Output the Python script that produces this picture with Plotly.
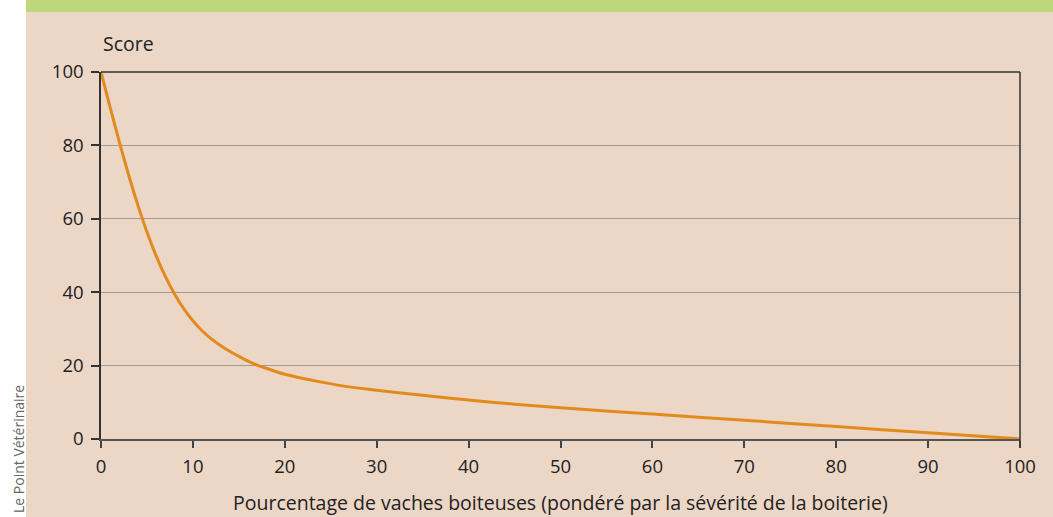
import plotly.graph_objects as go

# Data
x_pct = [0, 1, 2, 3, 4, 5, 6, 7, 8, 9, 10, 11, 12, 13, 14, 15, 16, 17, 18, 19,
         20, 22, 24, 27, 30, 35, 40, 45, 50, 60, 70, 80, 90, 100]
score = [100, 90.3, 80.9, 72.0, 63.8, 56.4, 49.9, 44.3, 39.5, 35.5, 32.2, 29.5,
         27.3, 25.5, 23.9, 22.5, 21.2, 20.15, 19.25, 18.4, 17.65, 16.5, 15.5,
         14.2, 13.3, 11.9, 10.6, 9.5, 8.5, 6.8, 5.1, 3.4, 1.7, 0]
x_ticks = [0, 10, 20, 30, 40, 50, 60, 70, 80, 90, 100]
y_ticks = [0, 20, 40, 60, 80, 100]
x_title = "Pourcentage de vaches boiteuses (pondéré par la sévérité de la boiterie)"
y_title = "Score"
credit = "Le Point Vétérinaire"

W, H = 1053, 517
L, R, T, B = 101, 33, 72, 78
pw, ph = W - L - R, H - T - B

def px_x(p):
    return (p - L) / pw

def px_y(p):
    return (H - B - p) / ph

BEIGE = "#ecd6c6"
GREEN = "#bdd87a"
FONT = "Open Sans"

fig = go.Figure()
fig.add_trace(go.Scatter(
    x=x_pct, y=score, mode="lines",
    line=dict(color="#e38a1c", width=3, shape="spline", smoothing=0.8),
    cliponaxis=False, showlegend=False, hoverinfo="skip",
))

fig.update_layout(
    width=W, height=H,
    margin=dict(l=L, r=R, t=T, b=B, pad=0, autoexpand=False),
    paper_bgcolor=BEIGE, plot_bgcolor=BEIGE,
    font=dict(family=FONT, size=18, color="#222"),
    xaxis=dict(
        range=[0, 100], tickvals=x_ticks, ticks="outside", ticklen=7,
        tickwidth=1.5, tickcolor="#444", showgrid=False, zeroline=False,
        showline=True, linecolor="#555", linewidth=2, mirror=False,
        tickfont=dict(size=18.5, color="#222"), ticklabelstandoff=3,
        automargin=False, fixedrange=True,
    ),
    yaxis=dict(
        range=[0, 100], tickvals=y_ticks, ticks="outside", ticklen=8,
        tickwidth=1.5, tickcolor="#333", showgrid=True, gridcolor="#a09a96",
        gridwidth=1, zeroline=False, showline=True, linecolor="#333",
        linewidth=1.5, tickfont=dict(size=18.5, color="#222"),
        ticklabelstandoff=4, automargin=False, fixedrange=True,
    ),
    shapes=[
        # white strip on the left
        dict(type="rect", xref="paper", yref="paper", x0=px_x(0), x1=px_x(26),
             y0=px_y(H), y1=px_y(0), fillcolor="white", line=dict(width=0), layer="below"),
        # green band on top
        dict(type="rect", xref="paper", yref="paper", x0=px_x(26), x1=px_x(W),
             y0=px_y(12), y1=px_y(0), fillcolor=GREEN, line=dict(width=0), layer="below"),
        # top border line
        dict(type="line", xref="paper", yref="paper", x0=0, x1=1, y0=1, y1=1,
             line=dict(color="#333", width=1.5)),
        # right border line
        dict(type="line", xref="paper", yref="paper", x0=1, x1=1, y0=px_y(447), y1=1,
             line=dict(color="#333", width=1.5)),
    ],
    annotations=[
        dict(text=y_title, xref="paper", yref="paper", x=0, y=px_y(44),
             xanchor="left", yanchor="middle", showarrow=False,
             font=dict(size=19.5, color="#222")),
        dict(text=x_title, xref="paper", yref="paper", x=0.5, y=px_y(503),
             xanchor="center", yanchor="middle", showarrow=False,
             font=dict(size=19.5, color="#222")),
        dict(text=credit, xref="paper", yref="paper",
             x=px_x(18), y=px_y(449), xanchor="center", yanchor="middle",
             textangle=-90, showarrow=False, font=dict(size=14, color="#666")),
    ],
)

fig.write_html("out.html", config={"displayModeBar": False},
               post_script="document.body.style.margin='0';document.body.style.overflow='hidden';")
